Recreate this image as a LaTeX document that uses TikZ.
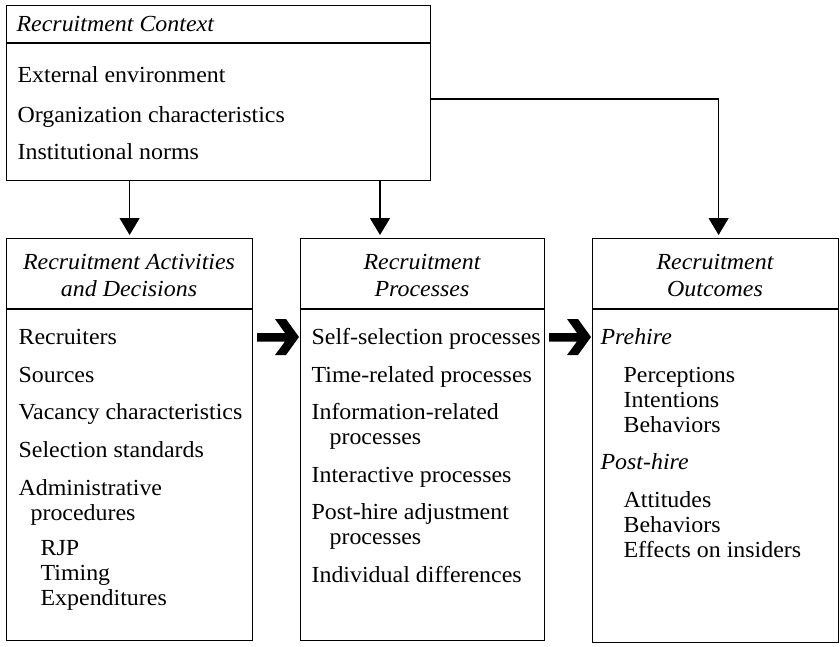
\documentclass[tikz,border=0pt]{standalone}
\usepackage{fontspec}
\setmainfont{Liberation Serif}[FakeStretch=1.04]
\usetikzlibrary{arrows.meta}
\begin{document}
\begin{tikzpicture}[x=1pt,y=-1pt,line width=1.2pt,
  box/.style={draw,rectangle,inner sep=0pt,anchor=north west},
  txt/.style={anchor=base west,inner sep=0pt,font=\fontsize{23}{27}\selectfont},
  ttl/.style={anchor=base,inner sep=0pt,font=\fontsize{23}{27}\selectfont\itshape},
  ittl/.style={anchor=base west,inner sep=0pt,font=\fontsize{23}{27}\selectfont\itshape},
  arr/.style={-{Triangle[width=20pt,length=17pt]},line width=1.2pt},
  bigarrow/.style={fill=black,draw=none}]
\useasboundingbox (0,0) rectangle (840,646);
\fill[white] (0,0) rectangle (840,646);
% boxes
\node[box,minimum width=424pt,minimum height=175pt] (ctx) at (6,5) {};
\node[box,minimum width=246pt,minimum height=402pt] (act) at (6,238) {};
\node[box,minimum width=244pt,minimum height=402pt] (proc) at (300,238) {};
\node[box,minimum width=246pt,minimum height=404pt] (out) at (592,238) {};
% dividers
\draw (ctx.west |- 0,43) -- (ctx.east |- 0,43);
\draw (act.west |- 0,309) -- (act.east |- 0,309);
\draw (proc.west |- 0,309) -- (proc.east |- 0,309);
\draw (out.west |- 0,309) -- (out.east |- 0,309);
% context texts
\node[ittl] (ctxh) at (16,31.5) {Recruitment Context};
\node[txt] (c1) at (17,82.5) {External environment};
\node[txt] (c2) at (17,122) {Organization characteristics};
\node[txt] (c3) at (17,159.5) {Institutional norms};
% activities
\node[ttl] (ah1) at (129,269) {Recruitment Activities};
\node[ttl] (ah2) at (129,296) {and Decisions};
\node[txt] (a1) at (18,344.5) {Recruiters};
\node[txt] (a2) at (18,382) {Sources};
\node[txt] (a3) at (18,419.5) {Vacancy characteristics};
\node[txt] (a4) at (18,457.5) {Selection standards};
\node[txt] (a5) at (18,495) {Administrative};
\node[txt] (a6) at (30,520) {procedures};
\node[txt] (a7) at (40,555) {RJP};
\node[txt] (a8) at (40,580) {Timing};
\node[txt] (a9) at (40,605) {Expenditures};
% processes
\node[ttl] (ph1) at (422,269) {Recruitment};
\node[ttl] (ph2) at (422,296) {Processes};
\node[txt] (p1) at (311,344.5) {Self-selection processes};
\node[txt] (p2) at (311,382.5) {Time-related processes};
\node[txt] (p3) at (311,419.5) {Information-related};
\node[txt] (p4) at (329,444.5) {processes};
\node[txt] (p5) at (311,482.5) {Interactive processes};
\node[txt] (p6) at (311,519.5) {Post-hire adjustment};
\node[txt] (p7) at (329,544.5) {processes};
\node[txt] (p8) at (311,582.5) {Individual differences};
% outcomes
\node[ttl] (oh1) at (715,269) {Recruitment};
\node[ttl] (oh2) at (715,296) {Outcomes};
\node[ittl] (o1) at (600,344.5) {Prehire};
\node[txt] (o2) at (623,382.5) {Perceptions};
\node[txt] (o3) at (623,407.5) {Intentions};
\node[txt] (o4) at (623,432.5) {Behaviors};
\node[ittl] (o5) at (600,469.5) {Post-hire};
\node[txt] (o6) at (623,507.5) {Attitudes};
\node[txt] (o7) at (623,532.5) {Behaviors};
\node[txt] (o8) at (623,557.5) {Effects on insiders};
% connectors
\draw[arr,shorten >=3pt] (ctx.south -| act.north) -- (act.north);
\draw[arr,shorten >=3pt] (ctx.south -| 380,0) -- (proc.north -| 380,0);
\draw[arr,shorten >=3pt] (ctx.east |- 0,99) -| ([xshift=3pt]out.north);
% thick arrows
\coordinate (t1) at (proc.west |- 0,337);
\coordinate (t2) at (out.west |- 0,337);
\foreach \t in {t1,t2}{
  \fill[bigarrow] ([xshift=-1pt]\t) -- ++(-13,-18) -- ++(-11,0) -- ++(10,14) -- ++(-28,0)
    -- ++(0,8.5) -- ++(28,0) -- ++(-10,13.5) -- ++(11,0) -- cycle;
}
\end{tikzpicture}
\end{document}
